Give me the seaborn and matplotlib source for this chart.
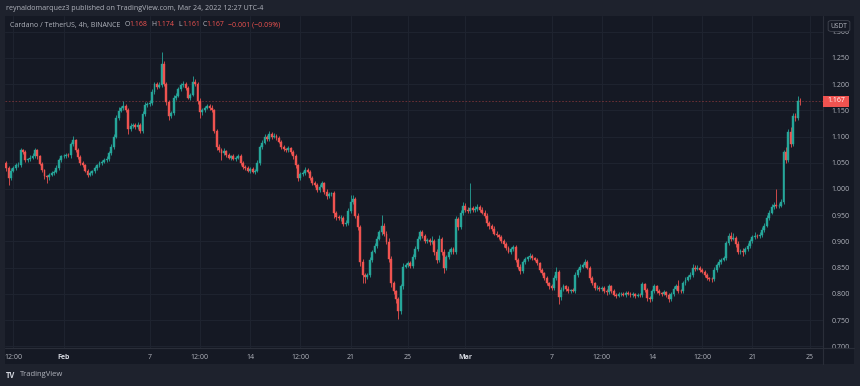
import numpy as np
import pandas as pd
import matplotlib
matplotlib.use("Agg")
import matplotlib.pyplot as plt
from matplotlib.patches import Rectangle, FancyBboxPatch
from matplotlib.lines import Line2D
import seaborn as sns

# ADA/USDT 4h closes, Jan 28 00:00 -> Mar 24 08:00 (one row = one day, 6 candles)
closes = [
    1.040, 1.021, 1.035, 1.040, 1.045, 1.046,
    1.074, 1.070, 1.055, 1.057, 1.060, 1.063,
    1.074, 1.062, 1.048, 1.036, 1.024, 1.022,
    1.027, 1.030, 1.033, 1.040, 1.055, 1.062,
    1.063, 1.065, 1.064, 1.085, 1.093, 1.075,
    1.061, 1.050, 1.046, 1.035, 1.027, 1.030,
    1.034, 1.040, 1.045, 1.050, 1.052, 1.055,
    1.058, 1.068, 1.080, 1.100, 1.136, 1.149,
    1.155, 1.158, 1.150, 1.114, 1.120, 1.122,
    1.118, 1.122, 1.111, 1.143, 1.161, 1.162,
    1.164, 1.185, 1.200, 1.195, 1.199, 1.239,
    1.200, 1.165, 1.139, 1.145, 1.174, 1.178,
    1.190, 1.198, 1.200, 1.192, 1.174, 1.180,
    1.205, 1.200, 1.168, 1.146, 1.150, 1.155,
    1.158, 1.155, 1.150, 1.111, 1.080, 1.075,
    1.068, 1.072, 1.065, 1.060, 1.062, 1.058,
    1.060, 1.063, 1.050, 1.042, 1.040, 1.035,
    1.038, 1.033, 1.035, 1.050, 1.080, 1.088,
    1.099, 1.095, 1.105, 1.100, 1.102, 1.098,
    1.090, 1.080, 1.076, 1.074, 1.078, 1.070,
    1.062, 1.045, 1.021, 1.028, 1.030, 1.036,
    1.033, 1.021, 1.012, 1.008, 0.998, 1.004,
    1.011, 0.995, 0.986, 0.990, 0.992, 0.955,
    0.946, 0.944, 0.945, 0.933, 0.936, 0.958,
    0.975, 0.980, 0.949, 0.927, 0.861, 0.836,
    0.833, 0.835, 0.864, 0.880, 0.892, 0.905,
    0.917, 0.930, 0.915, 0.899, 0.867, 0.820,
    0.805, 0.790, 0.767, 0.814, 0.852, 0.855,
    0.858, 0.853, 0.870, 0.886, 0.905, 0.917,
    0.910, 0.900, 0.902, 0.899, 0.901, 0.880,
    0.864, 0.905, 0.880, 0.849, 0.870, 0.880,
    0.885, 0.880, 0.942, 0.927, 0.955, 0.967,
    0.960, 0.958, 0.963, 0.960, 0.962, 0.965,
    0.960, 0.955, 0.949, 0.935, 0.930, 0.924,
    0.915, 0.912, 0.908, 0.900, 0.895, 0.888,
    0.880, 0.885, 0.889, 0.865, 0.852, 0.843,
    0.860, 0.867, 0.870, 0.872, 0.868, 0.865,
    0.858, 0.845, 0.839, 0.830, 0.820, 0.814,
    0.811, 0.830, 0.842, 0.793, 0.808, 0.814,
    0.810, 0.805, 0.807, 0.806, 0.836, 0.845,
    0.852, 0.855, 0.861, 0.850, 0.830, 0.820,
    0.811, 0.812, 0.809, 0.811, 0.805, 0.803,
    0.814, 0.806, 0.798, 0.796, 0.799, 0.800,
    0.798, 0.802, 0.800, 0.797, 0.799, 0.796,
    0.798, 0.797, 0.818, 0.808, 0.792, 0.790,
    0.805, 0.814, 0.806, 0.801, 0.800, 0.803,
    0.797, 0.790, 0.800, 0.810, 0.814, 0.806,
    0.805, 0.821, 0.827, 0.832, 0.836, 0.849,
    0.848, 0.850, 0.845, 0.842, 0.836, 0.830,
    0.829, 0.828, 0.846, 0.855, 0.861, 0.865,
    0.868, 0.896, 0.911, 0.905, 0.907, 0.895,
    0.880, 0.882, 0.879, 0.885, 0.892, 0.900,
    0.908, 0.911, 0.910, 0.912, 0.922, 0.930,
    0.945, 0.955, 0.965, 0.970, 0.968, 0.968,
    0.975, 1.070, 1.055, 1.108, 1.086, 1.139,
    1.135, 1.168, 1.167,
]
first_open = 1.050

# upper / lower wick lengths in thousandths
wick_up = [
    4, 3, 5, 3, 4, 6,   5, 3, 4, 3, 4, 5,   4, 3, 3, 4, 3, 3,   3, 4, 3, 5, 4, 3,
    3, 4, 3, 5, 9, 3,   3, 4, 3, 2, 3, 4,   3, 4, 3, 4, 3, 4,   5, 4, 6, 5, 6, 8,
    4, 10, 4, 5, 6, 4,  3, 5, 4, 6, 5, 4,   5, 6, 4, 5, 5, 22,  6, 4, 5, 4, 6, 5,
    4, 5, 6, 4, 5, 4,   11, 5, 4, 5, 4, 3,  5, 4, 5, 3, 4, 5,   4, 6, 3, 4, 3, 4,
    3, 4, 3, 4, 3, 4,   3, 4, 3, 5, 4, 6,   5, 4, 5, 4, 5, 3,   4, 3, 4, 3, 4, 3,
    5, 4, 3, 4, 5, 6,   4, 3, 4, 3, 4, 5,   4, 3, 4, 5, 3, 4,   3, 4, 5, 3, 4, 6,
    14, 8, 4, 5, 4, 5,  4, 5, 6, 4, 5, 6,   5, 20, 6, 5, 8, 5,  4, 3, 4, 5, 6, 4,
    5, 4, 6, 5, 6, 5,   4, 5, 4, 5, 10, 4,  5, 8, 4, 5, 4, 5,   4, 5, 6, 4, 5, 8,
    6, 5, 48, 4, 5, 6,  4, 5, 4, 5, 4, 3,   5, 4, 3, 4, 5, 4,   3, 4, 5, 4, 3, 4,
    5, 4, 3, 5, 4, 3,   4, 3, 4, 3, 4, 3,   4, 5, 9, 4, 5, 4,   3, 4, 3, 4, 5, 4,
    5, 4, 5, 4, 3, 4,   3, 4, 3, 4, 3, 4,   5, 3, 4, 3, 4, 3,   4, 3, 4, 3, 4, 3,
    3, 4, 5, 3, 4, 3,   4, 5, 3, 4, 3, 4,   3, 4, 3, 4, 5, 12,  3, 4, 5, 4, 5, 8,
    5, 4, 3, 4, 3, 4,   3, 4, 5, 4, 5, 4,   5, 4, 5, 6, 9, 4,   5, 4, 5, 4, 5, 4,
    5, 6, 4, 5, 6, 5,   6, 5, 6, 5, 29, 6,  5, 5, 10, 6, 10, 5,
    6, 10, 6,
]
wick_dn = [
    5, 13, 4, 3, 4, 3,  4, 3, 4, 3, 4, 3,   3, 4, 3, 4, 5, 10,  4, 3, 4, 3, 3, 4,
    3, 4, 3, 4, 3, 4,   3, 4, 5, 3, 4, 3,   4, 3, 4, 3, 4, 3,   3, 4, 3, 4, 3, 4,
    3, 4, 3, 10, 4, 3,  4, 3, 5, 4, 3, 4,   3, 4, 3, 4, 3, 4,   4, 5, 7, 4, 3, 4,
    3, 4, 3, 4, 3, 4,   3, 4, 5, 10, 4, 3,  3, 4, 3, 5, 6, 4,   12, 3, 4, 3, 4, 3,
    4, 3, 4, 3, 4, 3,   4, 3, 4, 3, 4, 3,   3, 4, 3, 4, 3, 4,   3, 4, 3, 4, 3, 4,
    4, 5, 6, 4, 3, 4,   3, 4, 5, 4, 3, 4,   3, 4, 5, 4, 3, 10,  6, 4, 5, 4, 3, 4,
    3, 4, 5, 6, 8, 15,  12, 4, 3, 4, 3, 4,  3, 4, 5, 4, 6, 7,   6, 8, 15, 5, 4, 3,
    4, 3, 4, 3, 4, 3,   4, 3, 4, 5, 4, 6,   5, 3, 6, 9, 4, 3,   4, 5, 4, 6, 3, 4,
    3, 4, 3, 4, 3, 4,   4, 3, 4, 5, 6, 4,   3, 4, 3, 4, 5, 4,   3, 4, 3, 5, 4, 6,
    4, 3, 4, 3, 4, 3,   4, 3, 4, 3, 4, 5,   4, 3, 4, 13, 4, 3,  4, 3, 4, 3, 4, 3,
    4, 3, 4, 3, 4, 3,   4, 3, 4, 3, 4, 5,   3, 4, 3, 4, 3, 4,   3, 4, 3, 4, 3, 4,
    3, 4, 3, 4, 5, 6,   4, 3, 4, 3, 4, 3,   4, 5, 3, 4, 3, 4,   4, 3, 4, 3, 4, 3,
    4, 3, 4, 3, 4, 3,   4, 5, 3, 4, 3, 4,   3, 4, 3, 4, 3, 6,   5, 4, 7, 4, 3, 4,
    3, 4, 3, 4, 3, 4,   3, 4, 3, 4, 5, 4,   3, 4, 6, 4, 5, 4,
    5, 4, 6,
]

# x axis labels: candle index -> text
tick_idx = [3, 24, 60, 81, 102, 123, 144, 168, 192, 228, 249, 270, 291, 312, 336]
tick_txt = ["12:00", "Feb", "7", "12:00", "14", "12:00", "21", "25",
            "Mar", "7", "12:00", "14", "12:00", "21", "25"]
price_ticks = [0.70, 0.75, 0.80, 0.85, 0.90, 0.95, 1.00, 1.05, 1.10, 1.15, 1.20, 1.25, 1.30]
last_price = 1.167

# colours
FRAME = "#1e222d"
PANE = "#151924"
GRID = "#1f2430"
LINE = "#2a2e39"
TXT = "#b2b5be"
UP = "#26a69a"
DOWN = "#ef5350"

df = pd.DataFrame({"close": closes})
df["open"] = df["close"].shift(1).fillna(first_open)
df["high"] = df[["open", "close"]].max(axis=1) + np.array(wick_up) / 1000
df["low"] = df[["open", "close"]].min(axis=1) - np.array(wick_dn) / 1000
df["idx"] = np.arange(len(df))
df["color"] = np.where(df["close"] >= df["open"], UP, DOWN)

sns.set_theme(style="dark", rc={"axes.facecolor": PANE, "figure.facecolor": FRAME,
                                "axes.edgecolor": PANE, "grid.color": GRID})
plt.rcParams["font.family"] = ["Open Sans", "DejaVu Sans"]

W, H = 860, 386
fig = plt.figure(figsize=(8.6, 3.86), dpi=100)

def fx(px):
    return px / W

def fy(py):
    return 1 - py / H

# chart pane behind everything
fig.add_artist(Rectangle((fx(5), fy(364)), (854 - 5) / W, (364 - 16) / H,
                         transform=fig.transFigure, facecolor=PANE, edgecolor="none", zorder=-5))

ax = fig.add_axes([fx(5), fy(348), (823 - 5) / W, (348 - 16) / H])
ax.set_facecolor(PANE)
ax.set_xlim(-0.5, 341.5)
ax.set_ylim(0.6966, 1.330)

# candles
ax.vlines(df["idx"], df["low"], df["high"], colors=df["color"], linewidth=0.7, alpha=0.85, zorder=2)
ax.bar(df["idx"], df["close"] - df["open"], bottom=df["open"], width=0.8,
       color=df["color"], edgecolor=df["color"], linewidth=0.3, zorder=3)

ax.axhline(last_price, color=DOWN, alpha=0.45, linewidth=0.6, linestyle=(0, (2, 2)), zorder=1)

ax.set_yticks(price_ticks)
ax.set_yticklabels([f"{p:.3f}" for p in price_ticks])
ax.set_xticks(tick_idx)
ax.set_xticklabels(tick_txt)
ax.yaxis.tick_right()
ax.grid(True, color=GRID, linewidth=0.7)
ax.tick_params(axis="y", length=0, pad=6, labelsize=5, labelcolor=TXT)
ax.tick_params(axis="x", length=0, pad=4.5, labelsize=5, labelcolor=TXT)
for lab in ax.get_xticklabels():
    if lab.get_text() in ("Feb", "Mar"):
        lab.set_fontweight("bold")
        lab.set_color("#d1d4dc")
for s in ax.spines.values():
    s.set_visible(False)

# separators
fig.add_artist(Line2D([fx(823), fx(823)], [fy(16), fy(364)], transform=fig.transFigure,
                      color=LINE, linewidth=0.8, zorder=4))
fig.add_artist(Line2D([fx(5), fx(854)], [fy(348), fy(348)], transform=fig.transFigure,
                      color=LINE, linewidth=0.8, zorder=4))

# hide the lower half of the bottom price label like the reference
fig.add_artist(Rectangle((fx(824), fy(364)), 30 / W, 15.5 / H, transform=fig.transFigure,
                         facecolor=PANE, edgecolor="none", zorder=3))

# USDT unit box
fig.add_artist(FancyBboxPatch((fx(829), fy(31)), 20 / W, 10 / H, transform=fig.transFigure,
                              boxstyle="round,pad=0.001,rounding_size=0.004",
                              facecolor=PANE, edgecolor="#434651", linewidth=0.6, zorder=5))
fig.text(fx(839), fy(26), "USDT", fontsize=4.8, color=TXT, ha="center", va="center", zorder=6)

# last price tag
fig.add_artist(Rectangle((fx(823), fy(106.5)), 26 / W, 11 / H, transform=fig.transFigure,
                         facecolor=DOWN, edgecolor="none", zorder=5))
fig.text(fx(836), fy(101), "1.167", fontsize=5, color="white", ha="center", va="center", zorder=6)

# header texts
fig.text(fx(6), fy(9), "reynaldomarquez3 published on TradingView.com, Mar 24, 2022 12:27 UTC-4",
         fontsize=5.1, color=TXT, va="center")
legend_parts = [
    (10.5, "Cardano / TetherUS, 4h, BINANCE", TXT),
    (124.5, "O", TXT), (129, "1.168", DOWN),
    (151.5, "H", TXT), (156, "1.174", DOWN),
    (178.5, "L", TXT), (182, "1.161", DOWN),
    (202.5, "C", TXT), (206.5, "1.167", DOWN),
    (228, "\u22120.001 (\u22120.09%)", DOWN),
]
for px, txt, col in legend_parts:
    fig.text(fx(px), fy(25), txt, fontsize=5, color=col, va="center")

# footer logo
fig.text(fx(6), fy(375), "TV", fontsize=5.5, fontweight="bold", color="#d1d4dc", va="center")
fig.text(fx(20), fy(375), "TradingView", fontsize=5.5, color="#b2b5be", va="center")

fig.savefig("out.png", dpi=100, facecolor=FRAME)
